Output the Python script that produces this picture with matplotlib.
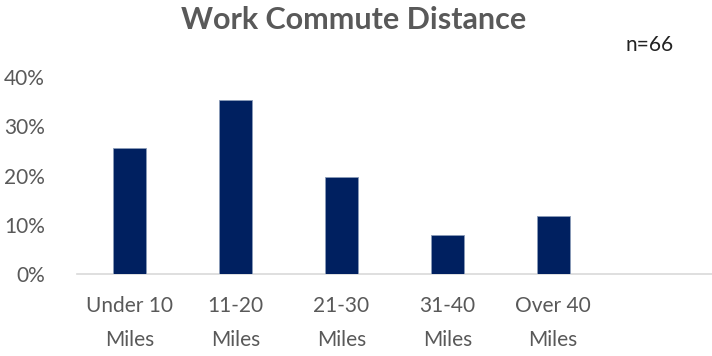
import matplotlib.pyplot as plt
from matplotlib.ticker import PercentFormatter

# commute distance shares (fraction of respondents)
categories = ["Under 10\nMiles", "11-20\nMiles", "21-30\nMiles", "31-40\nMiles", "Over 40\nMiles", ""]
shares = [0.256, 0.354, 0.198, 0.079, 0.118, 0.0]
yticks = [0, 0.1, 0.2, 0.3, 0.4]

plt.rcParams['font.family'] = ['Lato', 'DejaVu Sans']
grey = '#595959'

fig = plt.figure(figsize=(7.12, 3.56), dpi=100)
ax = fig.add_axes([0.108, 0.230, 0.892, 0.553])

x = range(len(categories))
ax.bar(x, shares, width=0.31, color='#002060', edgecolor='#8a9bb8', linewidth=0.6, zorder=3)

ax.set_xlim(-0.5, len(categories) - 0.5)
ax.set_ylim(0, 0.4)
ax.set_yticks(yticks)
ax.yaxis.set_major_formatter(PercentFormatter(1.0, decimals=0))
ax.set_xticks(list(x))
ax.set_xticklabels(categories, linespacing=1.85)

ax.tick_params(axis='y', length=0, pad=23, labelsize=15, labelcolor=grey)
ax.tick_params(axis='x', length=0, pad=16, labelsize=15, labelcolor=grey)

for side in ['top', 'right', 'left']:
    ax.spines[side].set_visible(False)
ax.spines['bottom'].set_color('#d9d9d9')
ax.spines['bottom'].set_linewidth(1.2)

fig.text(0.497, 0.945, "Work Commute Distance", ha='center', va='center',
         fontsize=22, fontweight='bold', color=grey)
fig.text(0.912, 0.873, "n=66", ha='center', va='center', fontsize=15, color='#222222')

fig.savefig("out.png", dpi=100)
